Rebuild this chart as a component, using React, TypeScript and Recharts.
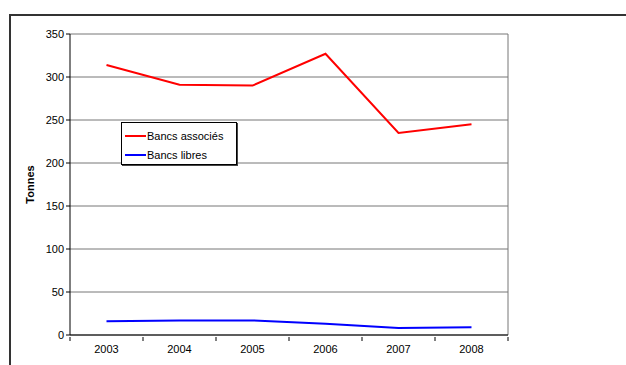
import React from 'react'
import {
  LineChart,
  Line,
  XAxis,
  YAxis,
  CartesianGrid,
  Legend,
} from 'recharts'

const years = ['2003', '2004', '2005', '2006', '2007', '2008']
const bancsAssocies = [314, 291, 290, 327, 235, 245]
const bancsLibres = [16, 17, 17, 13, 8, 9]
const yTicks = [0, 50, 100, 150, 200, 250, 300, 350]

const data = years.map((y, i) => ({
  year: y,
  associes: bancsAssocies[i],
  libres: bancsLibres[i],
}))

const FONT = '"Liberation Sans", Arial, sans-serif'
const BAND = 438 / years.length

function YearTick(props: any) {
  const { x, y, payload, index } = props
  const last = index === years.length - 1
  return (
    <g>
      <line x1={x - BAND / 2} y1={y - 6} x2={x - BAND / 2} y2={y - 2} stroke="#000" />
      {last && <line x1={x + BAND / 2} y1={y - 6} x2={x + BAND / 2} y2={y - 2} stroke="#000" />}
      <text x={x} y={y + 10} textAnchor="middle" fontSize={11} fontFamily={FONT} fill="#000">
        {payload.value}
      </text>
    </g>
  )
}

function LegendBox() {
  const items = [
    { label: 'Bancs associés', color: '#FF0000' },
    { label: 'Bancs libres', color: '#0000FF' },
  ]
  return (
    <div
      style={{
        width: 116,
        height: 43,
        border: '1px solid #000',
        boxShadow: '1px 1px 0 #444',
        background: '#fff',
        fontFamily: FONT,
        fontSize: 11,
        boxSizing: 'border-box',
        paddingTop: 3,
      }}
    >
      {items.map(it => (
        <div key={it.label} style={{ display: 'flex', alignItems: 'center', height: 19 }}>
          <span style={{ display: 'inline-block', width: 21, height: 2, background: it.color, marginLeft: 3 }} />
          <span style={{ marginLeft: 1 }}>{it.label}</span>
        </div>
      ))}
    </div>
  )
}

export default function App() {
  return (
    <div style={{ position: 'absolute', left: 0, top: 0, width: 626, height: 365, background: '#fff' }}>
      <div
        style={{
          position: 'absolute',
          left: 9,
          top: 14,
          width: 640,
          height: 380,
          borderTop: '2px solid #333',
          borderLeft: '2px solid #333',
        }}
      />
      <LineChart
        width={626}
        height={365}
        data={data}
        margin={{ top: 34, right: 118, bottom: 0, left: 10 }}
        style={{ position: 'absolute', left: 0, top: 0 }}
      >
        <CartesianGrid
          vertical={true}
          verticalPoints={[508]}
          horizontal={true}
          stroke="#777"
          strokeWidth={1}
        />
        <XAxis
          dataKey="year"
          padding={{ left: BAND / 2, right: BAND / 2 }}
          axisLine={{ stroke: '#000' }}
          tickLine={false}
          tick={<YearTick />}
          interval={0}
          height={30}
        />
        <YAxis
          domain={[0, 350]}
          ticks={yTicks}
          width={60}
          axisLine={{ stroke: '#000' }}
          tickLine={{ stroke: '#000' }}
          tickSize={4}
          tickMargin={2}
          tick={{ fontSize: 11, fill: '#000', fontFamily: FONT }}
          label={{
            value: 'Tonnes',
            angle: -90,
            position: 'insideLeft',
            offset: 20,
            style: { fontSize: 11, fontWeight: 'bold', fill: '#000', fontFamily: FONT, textAnchor: 'middle' },
          }}
        />
        <Legend
          content={<LegendBox />}
          layout="vertical"
          align="center"
          verticalAlign="middle"
          wrapperStyle={{ left: 121, top: 122, width: 116 }}
        />
        <Line
          dataKey="associes"
          name="Bancs associés"
          stroke="#FF0000"
          strokeWidth={2}
          dot={false}
          isAnimationActive={false}
        />
        <Line
          dataKey="libres"
          name="Bancs libres"
          stroke="#0000FF"
          strokeWidth={2}
          dot={false}
          isAnimationActive={false}
        />
      </LineChart>
    </div>
  )
}
